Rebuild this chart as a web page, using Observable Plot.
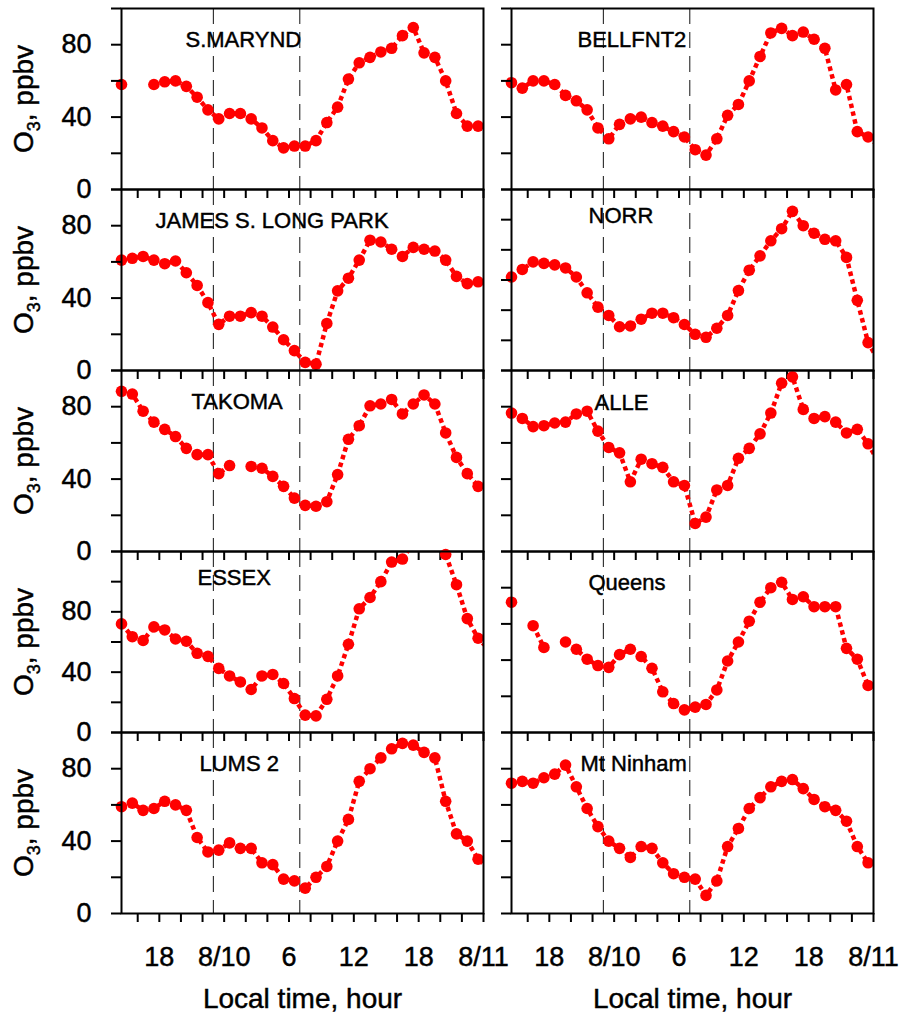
<!DOCTYPE html>
<html><head><meta charset="utf-8">
<script src="https://cdn.jsdelivr.net/npm/d3@7"></script>
<script src="https://cdn.jsdelivr.net/npm/@observablehq/plot@0.6"></script>
<style>
body{margin:0;background:#fff;}
#chart{position:relative;width:904px;height:1018px;font-family:"Liberation Sans",Arial,Helvetica,sans-serif;}
#chart svg{position:absolute;}
#chart svg text{stroke:#000;stroke-width:0.45px;}
</style></head><body><div id="chart"></div>
<script>
// ---- data ----
const hours = [14.5,15.5,16.5,17.5,18.5,19.5,20.5,21.5,22.5,23.5,24.5,25.5,26.5,27.5,28.5,29.5,30.5,31.5,32.5,33.5,34.5,35.5,36.5,37.5,38.5,39.5,40.5,41.5,42.5,43.5,44.5,45.5,46.5,47.5,48.5];
const xTickHours = [16,18,20,22,24,26,28,30,32,34,36,38,40,42,44,46,48];
const xLabelHours = [18,24,30,36,42,48];
const xLabels = ["18","8/10","6","12","18","8/11"];
const nightMarks = [23,31];
const yTicks100 = [0,20,40,60,80,100];
const yTicks120 = [0,20,40,60,80,100,120];
const yLabelValues = [0,40,80];
const stations = ["S.MARYND","BELLFNT2","JAMES S. LONG PARK","NORR","TAKOMA","ALLE","ESSEX","Queens","LUMS 2","Mt Ninham"];
const sMarynd = [58,null,null,58,59.5,60,57,51,44,39,42,42,39,34,27,23,24,24,27,37,45.5,61,70,73,76,78,85,89.5,75.5,73,60,42,35,35,null];
const bellfnt2 = [59,56,60,60,58,52,49,44,34,28,36,39,40,37,35,32,29,22,19,28,41,47,60,73.5,86.5,89,85,87,83,78,55,58,32,29,24];
const jamesLong = [61,62,63,61,59,60.5,54,47,37.5,25.5,30,30,32,30,24,17,11,4.5,3.5,26,44,51,61,72,71,67,63,68,67,66,61,52,48,49,null];
const norr = [62,67,72,71,70,68,62,51.5,42,36.5,29,29.5,34,38,38,35,30.5,24,22,28,36.5,53,66.5,76,86,94,105.5,96,91,87,86,75,46.5,18.5,6];
const takoma = [88.5,87,77.5,71.5,67.5,63.5,57,53.5,53.5,43,47.5,null,47,46,41.5,36,29.5,25.5,25,27.5,42.5,62,69.5,80.5,81.5,84,76,81.5,86.5,81.5,65.5,52,43,36,null];
const alle = [76.5,73.5,69,69.5,71,71.5,76,77.5,66.5,57.5,54.5,38.5,51,48.5,46.5,38.5,36.5,15.5,19,34,36.5,51.5,57,65,76.5,93,96.5,78.5,73.5,74.5,71.5,65.5,67.5,59.5,49];
const essex = [72,63.5,61,70,68,62,60.5,52.5,50.5,42.5,37.5,33.5,28.5,37.5,38.5,32.5,22.5,11.5,11,22,37.5,58.5,82,89.5,100,113,115,126,131,128,118,98,75.5,62.5,55];
const queens = [72,null,59,47,null,50,46,40.5,37,36,43,46,42,35.5,22.5,16,12.5,14,15.5,23.5,39.5,50,61.5,72,80,83,73.5,75,69.5,69.5,69.5,46.5,40.5,26,null];
const lums2 = [59,61,57,58,62,60,57,42,34,35,39,36,36,28,27,19,18,14,20,26,40,52,73,80,86,91,94,93,89,86,62,44,40,30,25];
const mtNinham = [72,73,72,75,77,82,70,58,48,40,36,31,37,36,28,22,20,19,10,18,37,47,58,64,70,73,74,69,63,59,57,51,37,28,null];
const stationValues = [sMarynd,bellfnt2,jamesLong,norr,takoma,alle,essex,queens,lums2,mtNinham];
const yMaxes = [100,100,100,120,100,100,120,100,100,100];

// ---- layout ----
const colLeft = [121, 511];
const rowTop = [8, 189, 370, 551, 732];
const W = 362, H = 181, M = 10;
const titleOffset = [[64,38],[66,38],[34,38],[77,33],[70,38],[83,39],[76,33],[77,38],[78,38],[69,38]];
const FONT = '"Liberation Sans", Arial, Helvetica, sans-serif';

const chart = document.getElementById("chart");

function panel(i) {
  const col = i % 2, row = Math.floor(i / 2);
  const vals = stationValues[i];
  const ymax = yMaxes[i];
  const data = hours.map((h, j) => ({hour: h, o3: vals[j]}));
  const shown = data.filter(d => d.o3 != null && d.hour <= 48 && d.o3 <= ymax);
  const isBottom = row === 4, isLeft = col === 0;
  const marks = [
    Plot.ruleX(nightMarks, {stroke: "#111", strokeWidth: 1, strokeDasharray: "16,8"}),
    Plot.line(data, {x: "hour", y: "o3", stroke: "#ff0000", strokeWidth: 4.5, strokeDasharray: "4.5,3.5",
      strokeLinecap: "butt", strokeLinejoin: "miter", clip: true}),
    Plot.dot(shown, {x: "hour", y: "o3", r: 5.8, fill: "#ff0000"}),
    Plot.frame({stroke: "black", strokeWidth: 2}),
    Plot.axisX({ticks: xTickHours, tickSize: 9, strokeWidth: 2, tickPadding: 24, fontSize: 27,
      tickFormat: d => (isBottom && xLabelHours.includes(d)) ? xLabels[xLabelHours.indexOf(d)] : "", label: null}),
    Plot.axisY({ticks: ymax === 120 ? yTicks120 : yTicks100, tickSize: 10, strokeWidth: 2, tickPadding: 20, fontSize: 27,
      tickFormat: d => (isLeft && yLabelValues.includes(d)) ? String(d) : "", label: null}),
    Plot.text([stations[i]], {frameAnchor: "top-left", dx: titleOffset[i][0], dy: titleOffset[i][1],
      textAnchor: "start", lineAnchor: "bottom", fontSize: 22})
  ];
  if (isLeft) {
    marks.push(Plot.text(["O3, ppbv"], {frameAnchor: "left", dx: -97, rotate: -90, fontSize: 28,
      textAnchor: "middle", lineAnchor: "middle"}));
  }
  if (isBottom) {
    marks.push(Plot.text(["Local time, hour"], {frameAnchor: "bottom", dy: 94, fontSize: 28,
      textAnchor: "middle", lineAnchor: "bottom"}));
  }
  const svg = Plot.plot({
    width: W + 2 * M, height: H + 2 * M,
    marginLeft: M, marginRight: M, marginTop: M, marginBottom: M,
    x: {domain: [14.5, 48], label: null},
    y: {domain: [0, ymax], label: null},
    style: {background: "transparent", overflow: "visible", color: "black", fontFamily: FONT, fontSize: "27px"},
    marks
  });
  svg.style.left = (colLeft[col] - M) + "px";
  svg.style.top = (rowTop[row] - M) + "px";
  svg.querySelectorAll("text").forEach(t => {
    if (t.textContent === "O3, ppbv") {
      t.textContent = "";
      const ns = "http://www.w3.org/2000/svg";
      const a = document.createElementNS(ns, "tspan"); a.textContent = "O";
      const b = document.createElementNS(ns, "tspan"); b.textContent = "3";
      b.setAttribute("font-size", "18"); b.setAttribute("dy", "7");
      const c = document.createElementNS(ns, "tspan"); c.textContent = ", ppbv"; c.setAttribute("dy", "-7");
      t.append(a, b, c);
    }
  });
  chart.appendChild(svg);
}
for (let i = 0; i < stations.length; i++) panel(i);
</script></body></html>
